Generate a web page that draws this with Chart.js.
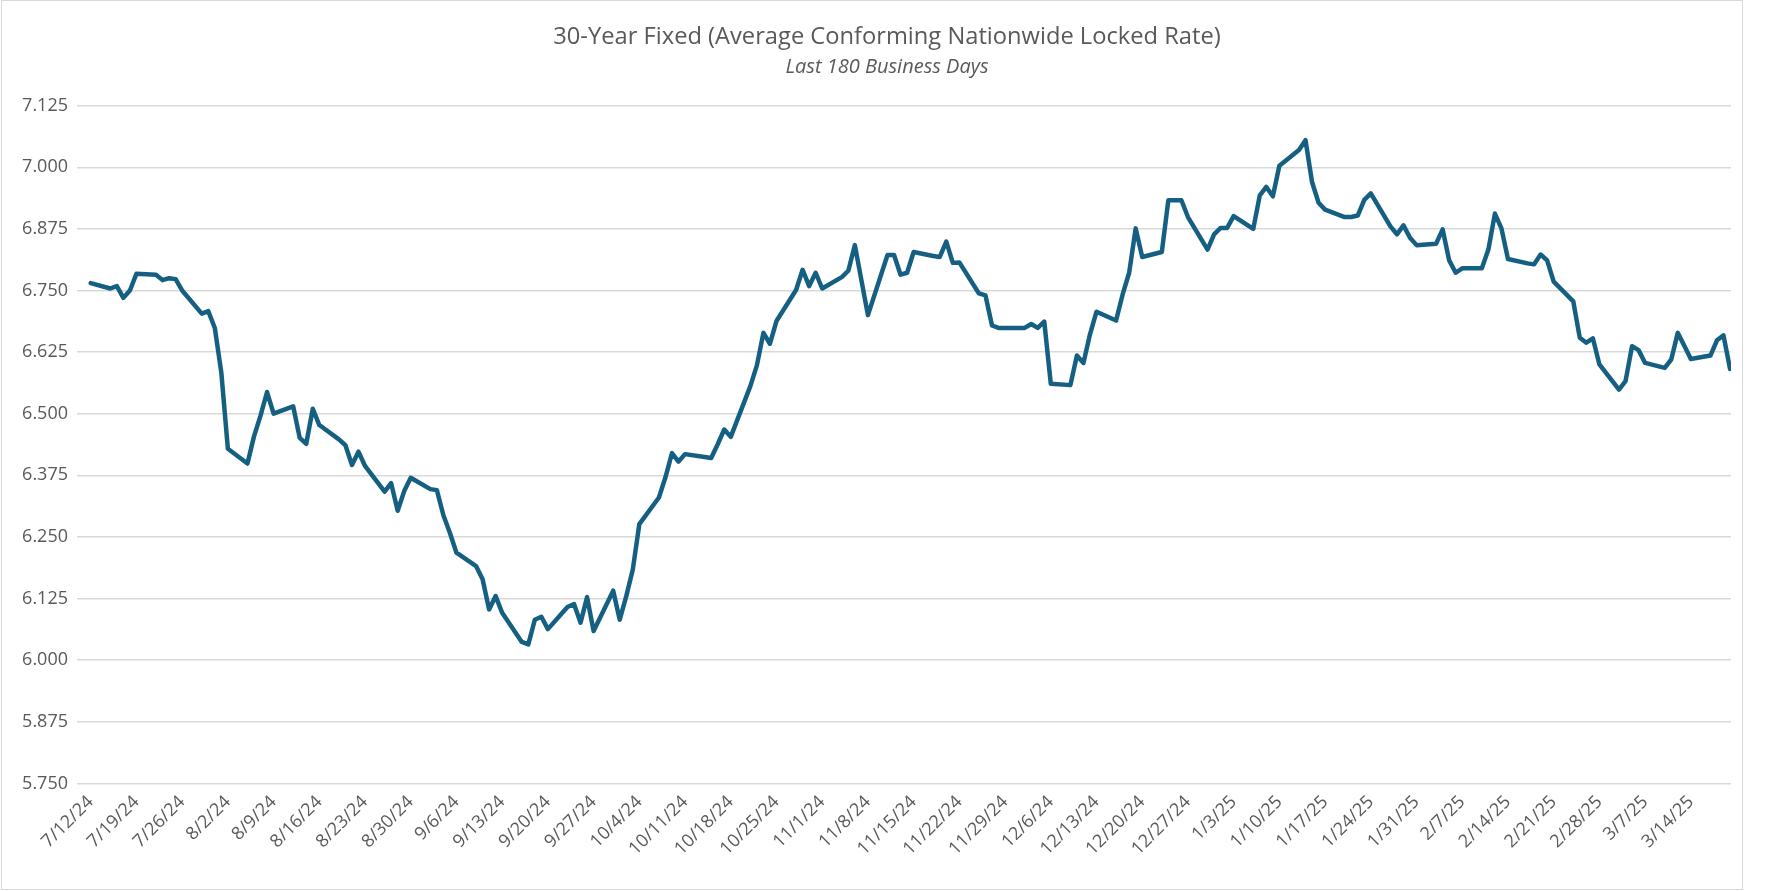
<!DOCTYPE html>
<html>
<head>
<meta charset="utf-8">
<script src="https://cdn.jsdelivr.net/npm/chart.js@4.4.1/dist/chart.umd.min.js"></script>
<style>
  html, body { margin: 0; padding: 0; background: #fff; }
  #wrap { position: relative; width: 1774px; height: 891px; }
  #frame { position: absolute; left: 1px; top: 0; width: 1740px; height: 888px; border: 1px solid #d9d9d9; pointer-events: none; }
</style>
</head>
<body>
<div id="wrap">
  <canvas id="line-chart" width="1774" height="891"></canvas>
  <div id="frame"></div>
</div>
<script>
// business days shown on the chart (m/d/yy)
const dates = [
  '7/12/24',
  '7/15/24', '7/16/24', '7/17/24', '7/18/24', '7/19/24',
  '7/22/24', '7/23/24', '7/24/24', '7/25/24', '7/26/24',
  '7/29/24', '7/30/24', '7/31/24', '8/1/24', '8/2/24',
  '8/5/24', '8/6/24', '8/7/24', '8/8/24', '8/9/24',
  '8/12/24', '8/13/24', '8/14/24', '8/15/24', '8/16/24',
  '8/19/24', '8/20/24', '8/21/24', '8/22/24', '8/23/24',
  '8/26/24', '8/27/24', '8/28/24', '8/29/24', '8/30/24',
  '9/2/24', '9/3/24', '9/4/24', '9/5/24', '9/6/24',
  '9/9/24', '9/10/24', '9/11/24', '9/12/24', '9/13/24',
  '9/16/24', '9/17/24', '9/18/24', '9/19/24', '9/20/24',
  '9/23/24', '9/24/24', '9/25/24', '9/26/24', '9/27/24',
  '9/30/24', '10/1/24', '10/2/24', '10/3/24', '10/4/24',
  '10/7/24', '10/8/24', '10/9/24', '10/10/24', '10/11/24',
  '10/14/24', '10/15/24', '10/16/24', '10/17/24', '10/18/24',
  '10/21/24', '10/22/24', '10/23/24', '10/24/24', '10/25/24',
  '10/28/24', '10/29/24', '10/30/24', '10/31/24', '11/1/24',
  '11/4/24', '11/5/24', '11/6/24', '11/7/24', '11/8/24',
  '11/11/24', '11/12/24', '11/13/24', '11/14/24', '11/15/24',
  '11/18/24', '11/19/24', '11/20/24', '11/21/24', '11/22/24',
  '11/25/24', '11/26/24', '11/27/24', '11/28/24', '11/29/24',
  '12/2/24', '12/3/24', '12/4/24', '12/5/24', '12/6/24',
  '12/9/24', '12/10/24', '12/11/24', '12/12/24', '12/13/24',
  '12/16/24', '12/17/24', '12/18/24', '12/19/24', '12/20/24',
  '12/23/24', '12/24/24', '12/25/24', '12/26/24', '12/27/24',
  '12/30/24', '12/31/24', '1/1/25', '1/2/25', '1/3/25',
  '1/6/25', '1/7/25', '1/8/25', '1/9/25', '1/10/25',
  '1/13/25', '1/14/25', '1/15/25', '1/16/25', '1/17/25',
  '1/20/25', '1/21/25', '1/22/25', '1/23/25', '1/24/25',
  '1/27/25', '1/28/25', '1/29/25', '1/30/25', '1/31/25',
  '2/3/25', '2/4/25', '2/5/25', '2/6/25', '2/7/25',
  '2/10/25', '2/11/25', '2/12/25', '2/13/25', '2/14/25',
  '2/17/25', '2/18/25', '2/19/25', '2/20/25', '2/21/25',
  '2/24/25', '2/25/25', '2/26/25', '2/27/25', '2/28/25',
  '3/3/25', '3/4/25', '3/5/25', '3/6/25', '3/7/25',
  '3/10/25', '3/11/25', '3/12/25', '3/13/25', '3/14/25',
  '3/17/25', '3/18/25', '3/19/25', '3/20/25'
];

// 30-year fixed locked rate, same order as dates
const rates = [
  6.765,
  6.754, 6.759, 6.735, 6.750, 6.784,
  6.782, 6.771, 6.775, 6.773, 6.750,
  6.703, 6.708, 6.674, 6.583, 6.429,
  6.399, 6.454, 6.496, 6.544, 6.500,
  6.515, 6.451, 6.439, 6.510, 6.477,
  6.448, 6.436, 6.396, 6.423, 6.394,
  6.342, 6.359, 6.303, 6.343, 6.370,
  6.347, 6.345, 6.294, 6.258, 6.218,
  6.191, 6.164, 6.103, 6.130, 6.096,
  6.037, 6.032, 6.082, 6.088, 6.063,
  6.108, 6.114, 6.076, 6.128, 6.059,
  6.141, 6.082, 6.130, 6.184, 6.276,
  6.330, 6.371, 6.420, 6.403, 6.418,
  6.412, 6.410, 6.438, 6.468, 6.453,
  6.556, 6.598, 6.664, 6.642, 6.688,
  6.751, 6.792, 6.759, 6.786, 6.754,
  6.777, 6.790, 6.842, 6.771, 6.700,
  6.822, 6.822, 6.782, 6.786, 6.828,
  6.820, 6.818, 6.849, 6.806, 6.807,
  6.744, 6.740, 6.679, 6.674, 6.674,
  6.674, 6.682, 6.674, 6.687, 6.561,
  6.558, 6.618, 6.603, 6.661, 6.707,
  6.689, 6.742, 6.786, 6.876, 6.818,
  6.828, 6.933, 6.933, 6.933, 6.899,
  6.833, 6.864, 6.877, 6.877, 6.901,
  6.875, 6.943, 6.960, 6.941, 7.003,
  7.035, 7.055, 6.970, 6.928, 6.914,
  6.899, 6.899, 6.902, 6.934, 6.947,
  6.880, 6.864, 6.882, 6.857, 6.842,
  6.845, 6.874, 6.811, 6.786, 6.795,
  6.795, 6.833, 6.906, 6.876, 6.814,
  6.805, 6.803, 6.823, 6.811, 6.768,
  6.728, 6.654, 6.644, 6.653, 6.600,
  6.549, 6.566, 6.637, 6.629, 6.603,
  6.593, 6.610, 6.664, 6.638, 6.611,
  6.618, 6.649, 6.659, 6.591
];

// weekly axis labels
const tickLabels = [
  '7/12/24', '7/19/24', '7/26/24', '8/2/24', '8/9/24', '8/16/24', '8/23/24', '8/30/24',
  '9/6/24', '9/13/24', '9/20/24', '9/27/24', '10/4/24', '10/11/24', '10/18/24', '10/25/24',
  '11/1/24', '11/8/24', '11/15/24', '11/22/24', '11/29/24', '12/6/24', '12/13/24', '12/20/24',
  '12/27/24', '1/3/25', '1/10/25', '1/17/25', '1/24/25', '1/31/25', '2/7/25', '2/14/25',
  '2/21/25', '2/28/25', '3/7/25', '3/14/25'
];

const yTicks = { min: 5.75, max: 7.125, step: 0.125 };

// date string -> days since the first date
function toDay(s) {
  const [m, d, y] = s.split('/').map(Number);
  const t = Date.UTC(2000 + y, m - 1, d);
  const [m0, d0, y0] = dates[0].split('/').map(Number);
  return Math.round((t - Date.UTC(2000 + y0, m0 - 1, d0)) / 86400000);
}

const grey = '#595959';
const font = 'Open Sans';

const ctx = document.getElementById('line-chart').getContext('2d');
const myChart = new Chart(ctx, {
  type: 'line',
  data: {
    datasets: [{
      data: dates.map((d, i) => ({ x: toDay(d), y: rates[i] })),
      borderColor: '#156082',
      borderWidth: 4.5,
      borderJoinStyle: 'round',
      borderCapStyle: 'round',
      pointRadius: 0,
      tension: 0,
      fill: false
    }]
  },
  options: {
    responsive: false,
    animation: false,
    layout: { padding: 0 },
    plugins: {
      legend: { display: false },
      tooltip: { enabled: false },
      title: {
        display: true,
        text: '30-Year Fixed (Average Conforming Nationwide Locked Rate)',
        color: grey,
        font: { family: font, size: 23.7, weight: 'normal' },
        padding: { top: 22.6, bottom: 0 }
      },
      subtitle: {
        display: true,
        text: 'Last 180 Business Days',
        color: grey,
        font: { family: font, size: 20, style: 'italic', weight: 'normal' },
        padding: { top: 4.3, bottom: 26.3 }
      }
    },
    scales: {
      x: {
        type: 'linear',
        min: -2.1,
        max: 251.15,
        grid: { display: false, drawTicks: false },
        border: { display: false },
        afterBuildTicks: scale => {
          scale.ticks = tickLabels.map(l => ({ value: toDay(l) }));
        },
        afterFit: scale => { scale.height = 107.6; },
        ticks: {
          autoSkip: false,
          minRotation: 45,
          maxRotation: 45,
          padding: 8,
          color: grey,
          font: { family: font, size: 18 },
          callback: (v, i) => tickLabels[i]
        }
      },
      y: {
        min: yTicks.min,
        max: yTicks.max,
        grid: { color: '#d9d9d9', lineWidth: 1.5, drawTicks: false },
        border: { display: false },
        afterFit: scale => { scale.width = 77; },
        ticks: {
          stepSize: yTicks.step,
          padding: 9,
          color: grey,
          font: { family: font, size: 18 },
          callback: v => v.toFixed(3)
        }
      },
      // empty right-hand margin so the title centres on the whole canvas
      yRight: {
        position: 'right',
        display: true,
        grid: { display: false, drawTicks: false },
        border: { display: false },
        ticks: { display: false },
        afterFit: scale => { scale.width = 43; }
      }
    }
  }
});
</script>
</body>
</html>
